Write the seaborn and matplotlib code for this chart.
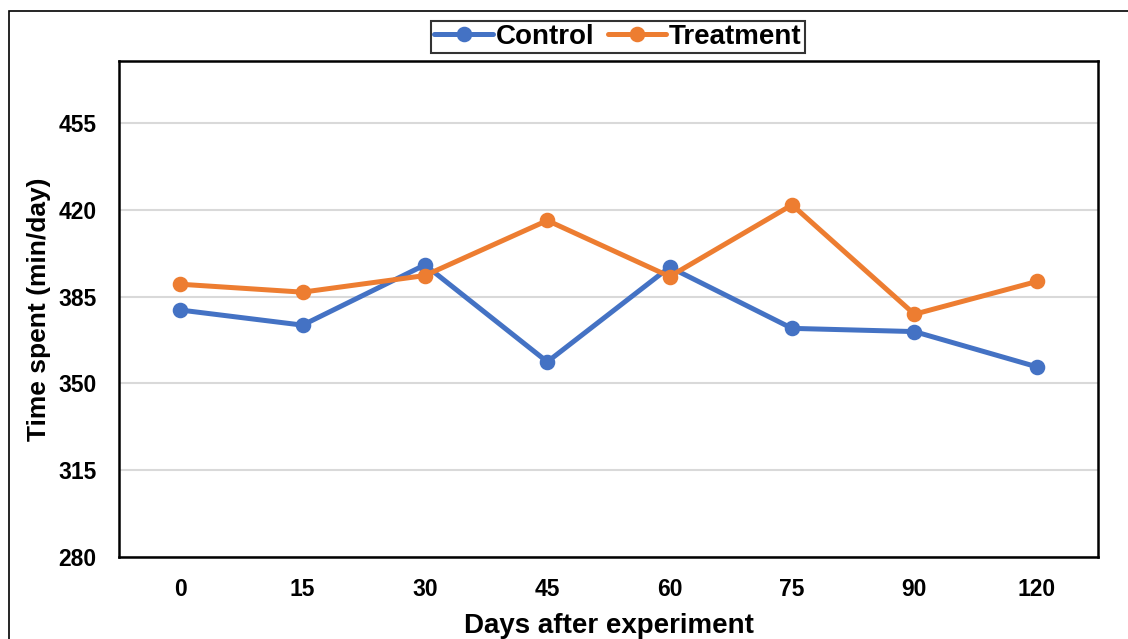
import matplotlib
matplotlib.use("Agg")
import matplotlib.pyplot as plt
import seaborn as sns
import pandas as pd
from matplotlib.patches import Rectangle

days = ["0", "15", "30", "45", "60", "75", "90", "120"]
control = [379.6, 373.5, 397.8, 358.7, 396.9, 372.2, 370.9, 356.7]
treatment = [390.0, 386.8, 393.5, 415.7, 393.1, 422.0, 377.9, 391.1]
series_names = ["Control", "Treatment"]
y_ticks = [280, 315, 350, 385, 420, 455]

df = pd.DataFrame({
    "Days": days * 2,
    "Time": control + treatment,
    "Group": [series_names[0]] * len(days) + [series_names[1]] * len(days),
})

sns.set_theme(style="white")
plt.rcParams["font.family"] = ["Liberation Sans", "DejaVu Sans"]
plt.rcParams["font.weight"] = "bold"
plt.rcParams["text.color"] = "black"
plt.rcParams["axes.labelcolor"] = "black"
plt.rcParams["xtick.color"] = "black"
plt.rcParams["ytick.color"] = "black"

fig = plt.figure(figsize=(11.28, 6.39), dpi=100)
ax = fig.add_axes([0.1055, 0.1283, 0.8679, 0.7762])

palette = {"Control": "#4472C4", "Treatment": "#ED7D31"}
sns.pointplot(data=df, x="Days", y="Time", hue="Group", order=days,
              hue_order=series_names, palette=palette, errorbar=None,
              markers="o", markersize=8.5, linewidth=3.6, ax=ax)

ax.set_xlim(-0.5, len(days) - 0.5)
ax.set_ylim(280, 480)
ax.set_yticks(y_ticks)
ax.grid(axis="y", color="#D9D9D9", linewidth=1.5)
ax.set_axisbelow(True)
for s in ax.spines.values():
    s.set_color("black")
    s.set_linewidth(1.8)

ax.tick_params(axis="both", length=0, labelsize=16.5, labelcolor="black")
ax.tick_params(axis="y", pad=16)
ax.tick_params(axis="x", pad=15)
for lab in ax.get_xticklabels() + ax.get_yticklabels():
    lab.set_fontweight("bold")

ax.set_xlabel("Days after experiment", fontsize=20, fontweight="bold",
              labelpad=9, color="black")
ax.set_ylabel("Time spent (min/day)", fontsize=19, fontweight="bold",
              color="black")
ax.yaxis.set_label_coords(-0.069, 0.5)

handles, labels = ax.get_legend_handles_labels()
if ax.get_legend() is not None:
    ax.get_legend().remove()
leg = fig.legend(handles, labels, loc="center", bbox_to_anchor=(0.548, 0.942),
                 ncol=2, frameon=True, fancybox=False, fontsize=20,
                 handlelength=2.1, handletextpad=0.1, columnspacing=0.5,
                 borderpad=0.12, borderaxespad=0)
leg.get_frame().set_edgecolor("black")
leg.get_frame().set_linewidth(1.5)
for t in leg.get_texts():
    t.set_fontweight("bold")
    t.set_color("black")

fig.patches.append(Rectangle((9 / 1128, -0.05), 1.2, 1 - 11 / 639 + 0.05,
                             transform=fig.transFigure, fill=False,
                             edgecolor="black", linewidth=1.2))

fig.savefig("out.png", dpi=100)
